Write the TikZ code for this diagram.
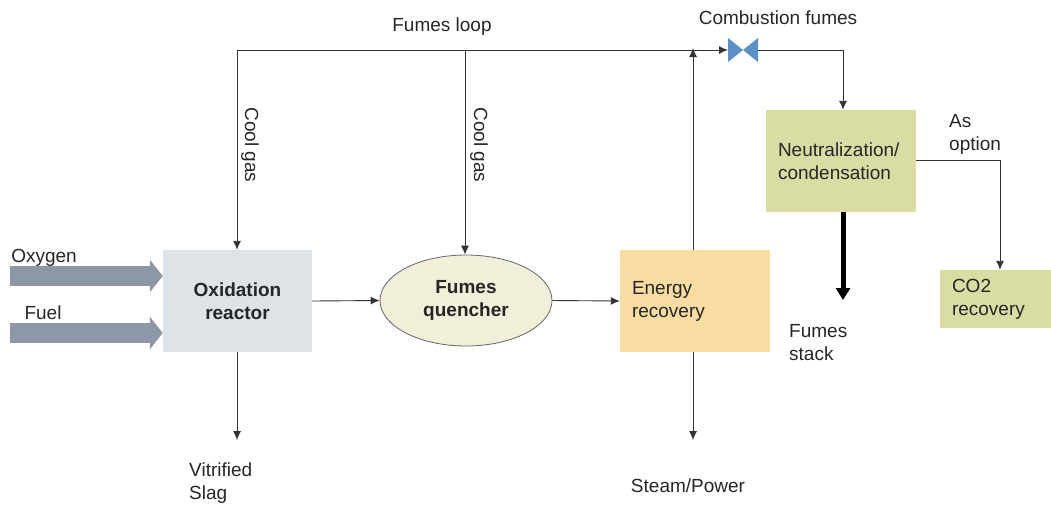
\documentclass[tikz,border=0pt]{standalone}
\usepackage{fontspec}
\setmainfont{Liberation Sans}
\usetikzlibrary{arrows.meta,shapes.geometric}
\definecolor{reactorfill}{HTML}{DDE3E7}
\definecolor{quenchfill}{HTML}{F1EED9}
\definecolor{energyfill}{HTML}{F8DDA3}
\definecolor{greenfill}{HTML}{D9DDA3}
\definecolor{valveblue}{HTML}{5A8FC8}
\definecolor{feedgray}{HTML}{8E97A8}
\definecolor{linegray}{HTML}{333333}
\tikzset{
  every node/.style={font=\fontsize{19}{23}\selectfont, text=black!85},
  unit/.style={inner ysep=0pt, inner xsep=12pt, minimum height=102pt, align=left},
  flow/.style={draw=linegray, line width=0.9pt, -{Latex[length=9pt,width=8pt]}},
  feed/.style={draw=feedgray, line width=20pt, -{Triangle[length=13pt,width=32pt]}},
  stackarrow/.style={draw=black, line width=5pt, -{Triangle[length=12pt,width=14pt]}},
  lbl/.style={inner sep=0pt, align=left},
}
\begin{document}
\begin{tikzpicture}[x=1pt,y=-1pt]
\useasboundingbox (0,0) rectangle (1051,507);

% process units
\node[unit, fill=reactorfill, minimum width=149pt, text width=125pt, align=center,
      font=\fontsize{19}{23}\selectfont\bfseries] (reactor) at (237.5,301) {Oxidation\\reactor};
\node[ellipse, draw=black!60, line width=0.8pt, fill=quenchfill, minimum width=172pt,
      minimum height=91pt, inner sep=0pt, align=center,
      font=\fontsize{19}{23}\selectfont\bfseries] (quencher) at (466,300.5) {Fumes\\quencher};
\node[unit, fill=energyfill, minimum width=150pt, text width=126pt] (energy) at (695,301) {Energy\\recovery};
\node[unit, fill=greenfill, minimum width=150pt, text width=126pt] (neut) at (841,161) {Neutralization/\\condensation};
\node[unit, fill=greenfill, minimum width=111pt, minimum height=58pt, text width=87pt] (co2) at (995.5,299) {CO2\\recovery};

% fumes loop junctions and valve
\coordinate (loopL) at (237,50);
\coordinate (loopM) at (465,50);
\coordinate (loopE) at (693,50);
\coordinate (valve) at (743,50);
\coordinate (valveW) at (728,50);
\coordinate (valveE) at (758,50);
\fill[valveblue] (728,38) -- (valve) -- (728,62) -- cycle;
\fill[valveblue] (758,38) -- (valve) -- (758,62) -- cycle;

% feed streams
\coordinate (oxIn) at (10,276);
\coordinate (fuelIn) at (10,333);
\path[feed] (oxIn) -- (reactor.west |- oxIn);
\path[feed] (fuelIn) -- (reactor.west |- fuelIn);

% main flow
\path[flow] (reactor.east) -- (quencher.west);
\path[flow] (quencher.east) -- (energy.west);

% fumes loop
\path[flow] (loopL) -- (valveW);
\path[flow] (loopL) -- (reactor.north -| loopL);
\path[flow] (loopM) -- (quencher.north -| loopM);
\path[flow] (energy.north -| loopE) -- ([yshift=2pt]loopE);
\path[flow] (valveE) -| (neut.north -| 843,0);

% outlets
\coordinate (slag) at (237,440);
\coordinate (steam) at (693,440);
\coordinate (stack) at (843,300);
\path[flow] (reactor.south -| slag) -- (slag);
\path[flow] (energy.south -| steam) -- (steam);
\path[stackarrow] (neut.south -| stack) -- (stack);
\path[flow] (neut.east |- 0,160) -| (co2.north -| 1000,0);

% labels
\node[lbl] (tLoop) at (442,27) {Fumes loop};
\node[lbl] (tComb) at (778,18) {Combustion fumes};
\node[lbl, rotate=-90] (tCool1) at (250,145) {Cool gas};
\node[lbl, rotate=-90] (tCool2) at (479,145) {Cool gas};
\node[lbl] (tOx) at (44,258) {Oxygen};
\node[lbl] (tFuel) at (43,313) {Fuel};
\node[lbl, anchor=west] (tSlag) at (189,483) {Vitrified\\Slag};
\node[lbl] (tSteam) at (688,486) {Steam/Power};
\node[lbl, anchor=west] (tStack) at (789,343) {Fumes\\stack};
\node[lbl, anchor=west] (tOpt) at (949,134) {As\\option};
\end{tikzpicture}
\end{document}
